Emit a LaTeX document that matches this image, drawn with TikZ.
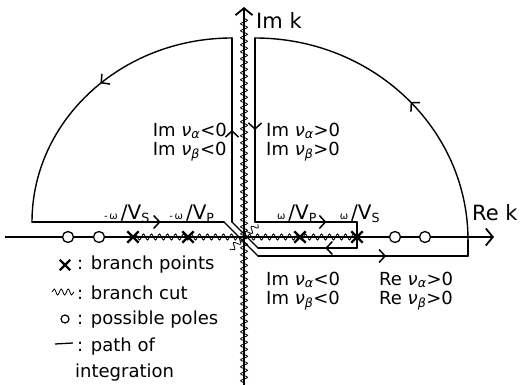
\documentclass[tikz,border=0pt]{standalone}
\usepackage{fontspec}
\setmainfont{DejaVu Sans}
\usepackage{tikz}
\usetikzlibrary{arrows.meta,calc,positioning,decorations.pathmorphing,decorations.markings,shapes.misc}

\newcommand{\nusub}[1]{\textit{ν}\textsubscript{\textit{#1}}}
\newcommand{\slowness}[2]{{\fontsize{10}{10}\selectfont #1ω}\,{\fontsize{20}{20}\selectfont/V}\textsubscript{#2}}

\begin{document}
\begin{tikzpicture}[x=1pt,y=1pt,font=\fontsize{18}{19}\selectfont,
    axis/.style={line width=1.8pt,-{Straight Barb[length=7pt,width=17pt,line width=1.8pt]}},
    cut/.style={decorate,decoration={snake,amplitude=3pt,segment length=8pt},line width=0.8pt},
    contour/.style={line width=1.4pt,line cap=round,line join=round},
    midarrow/.style={decoration={markings,mark=at position #1 with {\arrow[line width=1.5pt]{Straight Barb[length=6pt,width=13pt]}}},postaction={decorate}},
    bpoint/.style={cross out,draw,line width=2.4pt,minimum size=9pt,inner sep=0pt},
    pole/.style={circle,draw,fill=white,line width=1.3pt,minimum size=11pt,inner sep=0pt},
    lab/.style={inner sep=1pt},
    axlab/.style={lab,font=\fontsize{21}{21}\selectfont}]
  \useasboundingbox (0,0) rectangle (527,385);
  % axes
  \coordinate (O) at (244,148);
  \draw[axis] (5,148) -- (494,148) coordinate (rek);
  \draw[axis] (244,0) -- (244,378) coordinate (imk);
  % branch cuts
  \draw[cut] (133,148) -- (241,148);
  \draw[cut] (247,148) -- (357,148);
  \draw[cut,decoration={amplitude=3.5pt,segment length=7pt}] (244,2) -- (244,368);
  \draw[cut] (258,161) -- (230,135);
  % path of integration
  \draw[contour,midarrow=0.47] (232,347) arc[start angle=90,end angle=180,x radius=200,y radius=184];
  \draw[contour,midarrow=0.67] (32,163) -- (224,163);
  \draw[contour] (224,163) -- (258,129);
  \draw[contour,midarrow=0.61] (258,129) -- (468,129);
  \draw[contour] (468,129) -- (468,145);
  \draw[contour,midarrow=0.47] (468,145) arc[start angle=0,end angle=90,x radius=213,y radius=202];
  \draw[contour,midarrow=0.5] (255,347) -- (255,163);
  \draw[contour,midarrow=0.7] (255,163) -- (357,163);
  \draw[contour] (357,163) -- (357,137);
  \draw[contour,midarrow=0.32] (357,137) -- (258,137);
  \draw[contour] (258,137) -- (232,163);
  \draw[contour,midarrow=0.5] (232,163) -- (232,347);
  % poles and branch points
  \foreach \x/\n in {68/pa,99/pb,395/pc,425/pd}
    \node[pole] (\n) at (\x,148) {};
  \foreach \x/\n in {133/bs,188/bp,300/bq,357/bt}
    \node[bpoint] (\n) at (\x,148) {};
  % labels
  \node[axlab,anchor=west] (imklab) at (255,364) {Im k};
  \node[axlab,anchor=west] (reklab) at (471,172) {Re k};
  \node[lab,anchor=south] at (127,161) {\slowness{-\,}{S}};
  \node[lab,anchor=south] at (192,161) {\slowness{-\,}{P}};
  \node[lab,anchor=south] at (297,161) {\slowness{}{P}};
  \node[lab,anchor=south] at (360,161) {\slowness{}{S}};
  \node[lab,align=left,anchor=east] at (228,243) {Im \nusub{α}<0\\Im \nusub{β}<0};
  \node[lab,align=left,anchor=west] at (265,243) {Im \nusub{α}>0\\Im \nusub{β}>0};
  \node[lab,align=left,anchor=west] at (265,94) {Im \nusub{α}<0\\Im \nusub{β}<0};
  \node[lab,align=left,anchor=west] at (378,94) {Re \nusub{α}>0\\Re \nusub{β}>0};
  % legend
  \node[bpoint,minimum size=8pt] (lgx) at (65,120) {};
  \node[lab,anchor=west] at (76,120) {: branch points};
  \draw[cut,decoration={amplitude=3pt,segment length=7pt}] (52,93) -- (74,93);
  \node[lab,anchor=west] at (76,92) {: branch cut};
  \node[circle,draw,line width=1.2pt,minimum size=8pt,inner sep=0pt] (lgo) at (65,66) {};
  \node[lab,anchor=west] at (76,65) {: possible poles};
  \draw[line width=1.3pt] (55,41) -- (73,42);
  \node[lab,anchor=west] at (76,38) {: path of};
  \node[lab,anchor=west] at (74,12) {integration};
\end{tikzpicture}
\end{document}
